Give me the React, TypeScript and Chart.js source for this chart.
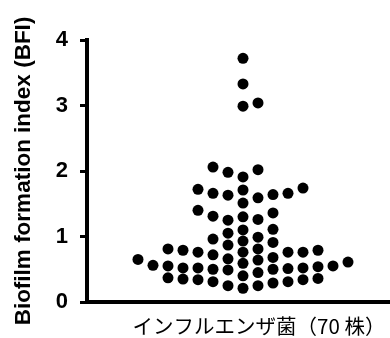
import React, { useEffect, useRef } from "react";
import { Chart, registerables } from "chart.js";

Chart.register(...registerables);

// Biofilm formation index of each strain (70 strains)
const bfiTop = [3.72, 3.33, 3.04, 2.99];
const bfiHigh = [2.06, 2.02, 1.98, 1.91, 1.74, 1.72, 1.71, 1.66, 1.66, 1.64, 1.63, 1.59, 1.51];
const bfiMid = [1.4, 1.36, 1.31, 1.3, 1.26, 1.25, 1.11, 1.1, 1.05, 0.99, 0.96];
const bfiLowUpper = [0.93, 0.91, 0.87, 0.81, 0.81, 0.79, 0.79, 0.76, 0.76, 0.76, 0.76, 0.72, 0.68, 0.66, 0.65, 0.64];
const bfiLowMiddle = [0.61, 0.59, 0.56, 0.55, 0.55, 0.54, 0.52, 0.52, 0.52, 0.51, 0.5, 0.5, 0.49];
const bfiLowBottom = [0.45, 0.4, 0.37, 0.36, 0.35, 0.34, 0.34, 0.31, 0.31, 0.29, 0.25, 0.25, 0.21];

const yTickValues = [0, 1, 2, 3, 4];
const yTitle = "Biofilm formation index (BFI)";
const groupLabel = "インフルエンザ菌（70 株）";

const FONT = '"Liberation Sans", Arial, sans-serif';

// beeswarm: place each value (ascending) in the nearest slot to the centre
// where it does not collide vertically with points already in that slot
function swarmSlots(values: number[], minGap: number): number[] {
  const order = values.map((_, i) => i).sort((a, b) => values[a] - values[b]);
  const cols = new Map<number, number[]>();
  const slots: number[] = new Array(values.length).fill(0);
  let right = 0;
  let left = 0;
  const free = (c: number, v: number) => (cols.get(c) || []).every((u) => Math.abs(u - v) >= minGap);
  for (const i of order) {
    const v = values[i];
    let chosen: number | null = null;
    for (let k = 0; chosen === null; k++) {
      if (k === 0) {
        if (free(0, v)) chosen = 0;
        continue;
      }
      const r = free(k, v);
      const l = free(-k, v);
      if (r && l) chosen = right <= left ? k : -k;
      else if (r) chosen = k;
      else if (l) chosen = -k;
    }
    const col = cols.get(chosen) || [];
    col.push(v);
    cols.set(chosen, col);
    slots[i] = chosen;
    if (chosen > 0) right++;
    if (chosen < 0) left++;
  }
  return slots;
}

export default function App() {
  const ref = useRef<HTMLCanvasElement>(null);

  useEffect(() => {
    document.body.style.margin = "0";
    const values = [...bfiTop, ...bfiHigh, ...bfiMid, ...bfiLowUpper, ...bfiLowMiddle, ...bfiLowBottom];
    const slots = swarmSlots(values, 0.165);
    const points = values.map((v, i) => ({ x: slots[i], y: v }));

    const labelPlugin = {
      id: "groupLabel",
      afterDraw(chart: any) {
        const { ctx, chartArea, scales } = chart;
        ctx.save();
        ctx.font = '20.5px "Noto Sans CJK JP"';
        ctx.fillStyle = "#000";
        ctx.textAlign = "center";
        ctx.textBaseline = "middle";
        ctx.fillText(groupLabel, scales.x.getPixelForValue(0) + 16, chartArea.bottom + 24);
        ctx.restore();
      },
    };

    const chart = new Chart(ref.current!, {
      type: "scatter",
      data: {
        datasets: [
          {
            data: points,
            backgroundColor: "#000",
            borderColor: "#000",
            borderWidth: 0,
            pointRadius: 5.5,
            pointHoverRadius: 5.5,
          },
        ],
      },
      options: {
        animation: false,
        responsive: false,
        layout: { autoPadding: false, padding: { top: 40, left: 0, right: 0, bottom: 0 } },
        plugins: { legend: { display: false }, tooltip: { enabled: false } },
        scales: {
          x: {
            type: "linear",
            min: -10.4,
            max: 9.8,
            ticks: { display: false },
            grid: { display: false },
            border: { display: true, width: 4, color: "#000" },
            afterFit: (s: any) => {
              s.height = 36;
            },
          },
          y: {
            min: 0,
            max: 4,
            afterBuildTicks: (s: any) => {
              s.ticks = yTickValues.map((v) => ({ value: v }));
            },
            ticks: {
              color: "#000",
              font: { family: FONT, size: 22, weight: "bold" },
              padding: 12,
            },
            grid: { drawOnChartArea: false, tickLength: 7, tickWidth: 3, tickColor: "#000" },
            border: { display: true, width: 4, color: "#000" },
            title: {
              display: true,
              text: yTitle,
              color: "#000",
              font: { family: FONT, size: 22.5, weight: "bold" },
              padding: { top: 10, bottom: 0 },
            },
            afterFit: (s: any) => {
              s.width = 87;
            },
          },
        },
      },
      plugins: [labelPlugin],
    });
    return () => chart.destroy();
  }, []);

  return (
    <div style={{ width: 390, height: 338 }}>
      <canvas ref={ref} width={390} height={338} />
    </div>
  );
}
